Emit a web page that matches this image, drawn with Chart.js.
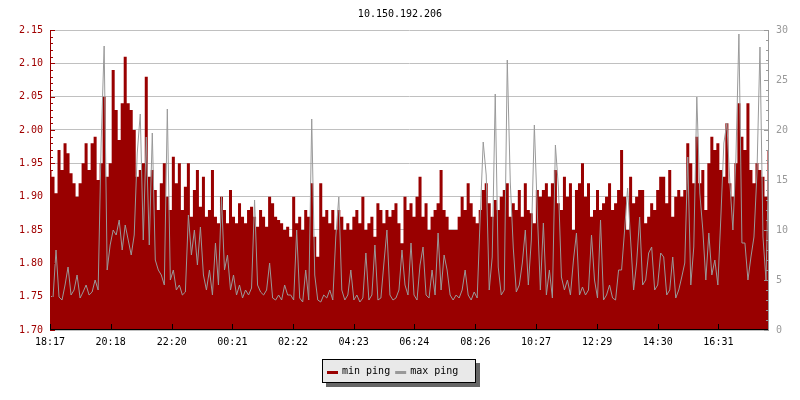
<!DOCTYPE html>
<html>
<head>
<meta charset="utf-8">
<title>10.150.192.206</title>
<script src="https://cdn.jsdelivr.net/npm/chart.js@4.4.1/dist/chart.umd.min.js"></script>
<style>
  html, body { margin: 0; padding: 0; background: #fff; }
  #wrap { width: 800px; height: 400px; }
</style>
</head>
<body>
<div id="wrap"><canvas id="pingChart" width="800" height="400"></canvas></div>
<script>
const chartTitle = '10.150.192.206';

// x axis labels and their offset in minutes from 18:17
const tickLabels = ['18:17', '20:18', '22:20', '00:21', '02:22', '04:23', '06:24', '08:26', '10:27', '12:29', '14:30', '16:31'];
const tickMinutes = [0, 121, 243, 364, 485, 606, 727, 849, 970, 1092, 1213, 1334];
const spanMinutes = 1435;

// min ping, left axis (ms)
const minPing = [
  1.94, 1.93, 1.905, 1.97, 1.94, 1.98, 1.965, 1.935, 1.92, 1.90,
  1.92, 1.95, 1.98, 1.94, 1.98, 1.99, 1.925, 1.95, 2.05, 1.93,
  1.95, 2.09, 2.03, 1.985, 2.04, 2.11, 2.04, 2.03, 2.00, 1.93,
  1.94, 1.95, 2.08, 1.93, 1.94, 1.91, 1.88, 1.92, 1.95, 1.90,
  1.88, 1.96, 1.92, 1.95, 1.88, 1.915, 1.95, 1.87, 1.91, 1.94,
  1.885, 1.93, 1.87, 1.88, 1.94, 1.87, 1.86, 1.90, 1.88, 1.86,
  1.91, 1.87, 1.86, 1.89, 1.87, 1.86, 1.88, 1.885, 1.87, 1.855,
  1.88, 1.87, 1.855, 1.90, 1.89, 1.87, 1.865, 1.86, 1.85, 1.855,
  1.84, 1.90, 1.86, 1.87, 1.85, 1.88, 1.87, 1.92, 1.84, 1.81,
  1.92, 1.87, 1.88, 1.86, 1.88, 1.85, 1.88, 1.87, 1.85, 1.86,
  1.85, 1.87, 1.88, 1.86, 1.90, 1.85, 1.86, 1.87, 1.84, 1.89,
  1.88, 1.86, 1.88, 1.87, 1.88, 1.89, 1.86, 1.83, 1.90, 1.88,
  1.89, 1.87, 1.90, 1.93, 1.87, 1.89, 1.85, 1.87, 1.88, 1.89,
  1.94, 1.88, 1.87, 1.85, 1.85, 1.85, 1.87, 1.90, 1.88, 1.92,
  1.89, 1.87, 1.86, 1.88, 1.91, 1.92, 1.89, 1.87, 1.895, 1.88,
  1.90, 1.91, 1.92, 1.87, 1.89, 1.88, 1.91, 1.87, 1.92, 1.88,
  1.875, 1.86, 1.91, 1.90, 1.91, 1.92, 1.90, 1.92, 1.94, 1.89,
  1.88, 1.93, 1.90, 1.92, 1.85, 1.91, 1.92, 1.95, 1.90, 1.92,
  1.87, 1.88, 1.91, 1.88, 1.89, 1.90, 1.92, 1.88, 1.89, 1.91,
  1.97, 1.90, 1.85, 1.93, 1.89, 1.90, 1.91, 1.91, 1.86, 1.87,
  1.89, 1.88, 1.91, 1.93, 1.93, 1.89, 1.94, 1.87, 1.90, 1.91,
  1.90, 1.91, 1.98, 1.95, 1.92, 1.99, 1.92, 1.94, 1.88, 1.95,
  1.99, 1.97, 1.98, 1.94, 1.93, 2.01, 1.92, 1.90, 1.95, 2.04,
  1.99, 1.97, 2.04, 1.94, 1.92, 1.95, 1.94, 1.93, 1.90, 1.97
];

// max ping, right axis (ms)
const maxPing = [
  3.5, 3.2, 8.0, 3.3, 3.0, 4.5, 6.3, 3.5, 4.0, 5.5,
  3.2, 3.8, 4.5, 3.5, 3.8, 5.0, 4.0, 18.7, 28.4, 6.0,
  8.5, 10.0, 9.5, 11.0, 8.0, 10.5, 9.0, 7.5, 9.5, 17.7,
  21.6, 9.0, 19.3, 8.5, 19.7, 7.0, 6.0, 5.5, 4.5, 22.1,
  5.0, 6.0, 4.0, 4.5, 3.5, 3.8, 11.5, 7.5, 10.0, 6.5,
  10.3, 5.5, 4.0, 6.0, 3.5, 8.7, 4.5, 13.3, 6.0, 7.5,
  4.0, 5.5, 3.5, 4.5, 3.2, 4.0, 3.5, 4.2, 13.0, 4.5,
  3.8, 3.5, 4.0, 6.7, 3.2, 3.0, 3.5, 3.0, 4.5, 3.5,
  3.5, 3.0, 10.0, 3.2, 2.8, 6.0, 3.0, 21.1, 5.5, 3.0,
  2.8, 3.5, 3.2, 4.0, 3.0, 9.3, 13.3, 4.0, 3.0, 3.5,
  6.0, 3.0, 3.5, 2.8, 3.2, 7.7, 3.0, 3.5, 8.5, 3.0,
  3.2, 6.7, 10.0, 3.5, 3.0, 3.2, 4.0, 8.0, 4.5, 3.5,
  8.7, 3.5, 3.0, 6.5, 8.3, 3.5, 3.2, 6.0, 3.5, 9.7,
  4.0, 7.5, 6.0, 3.5, 3.0, 3.5, 3.2, 4.0, 6.0, 3.5,
  3.0, 3.8, 3.2, 11.3, 18.8, 15.5, 4.0, 7.3, 23.6, 6.3,
  3.5, 4.0, 27.0, 14.8, 8.2, 3.8, 4.5, 6.7, 10.0, 4.5,
  9.0, 20.5, 11.7, 4.0, 10.7, 3.5, 6.0, 3.2, 18.5, 14.3,
  5.3, 4.0, 5.0, 3.5, 7.0, 9.7, 3.5, 4.3, 3.5, 4.0,
  9.5, 5.0, 3.2, 11.0, 3.0, 3.5, 4.5, 3.2, 3.0, 6.0,
  6.0, 10.0, 14.2, 9.0, 4.0, 6.7, 11.3, 4.5, 5.0, 7.7,
  8.3, 4.0, 4.5, 7.7, 7.3, 3.5, 4.0, 7.3, 3.2, 4.0,
  5.3, 6.7, 17.3, 4.5, 8.3, 23.3, 13.7, 10.0, 5.0, 9.7,
  5.5, 7.0, 4.5, 11.3, 18.7, 20.7, 14.7, 10.0, 17.2, 29.6,
  8.7, 8.7, 5.0, 7.3, 9.3, 15.7, 28.3, 9.3, 5.0, 18.0
];

const seriesLabels = ['min ping', 'max ping'];
const seriesColors = ['#990000', '#999999'];

const FONT = "'DejaVu Sans Mono', monospace";

// samples are evenly spread over the time span
const sampleStep = spanMinutes / (minPing.length - 1);
const toPoints = (values) => values.map((v, i) => ({ x: i * sampleStep, y: v }));

const axisTicksPlugin = {
  id: 'axisTicks',
  afterDatasetsDraw(chart) {
    const ctx = chart.ctx;
    const area = chart.chartArea;
    const y = chart.scales.y;
    const y1 = chart.scales.y1;
    const x = chart.scales.x;

    ctx.save();
    ctx.lineWidth = 1;

    // left axis, minor every 0.01
    ctx.strokeStyle = '#990000';
    ctx.beginPath();
    ctx.moveTo(area.left + 0.5, area.top);
    ctx.lineTo(area.left + 0.5, area.bottom);
    for (let i = 0; i <= 45; i++) {
      const py = Math.round(y.getPixelForValue(1.70 + i * 0.01)) + 0.5;
      const len = i % 5 === 0 ? 5 : 3;
      ctx.moveTo(area.left, py);
      ctx.lineTo(area.left + len, py);
    }
    ctx.stroke();

    // right axis, minor every 1
    ctx.strokeStyle = '#999999';
    ctx.beginPath();
    ctx.moveTo(area.right - 0.5, area.top);
    ctx.lineTo(area.right - 0.5, area.bottom);
    for (let i = 0; i <= 30; i++) {
      const py = Math.round(y1.getPixelForValue(i)) + 0.5;
      const len = i % 5 === 0 ? 5 : 3;
      ctx.moveTo(area.right, py);
      ctx.lineTo(area.right - len, py);
    }
    ctx.stroke();

    // bottom axis
    ctx.strokeStyle = '#000000';
    ctx.beginPath();
    ctx.moveTo(area.left, area.bottom - 0.5);
    ctx.lineTo(area.right - 1, area.bottom - 0.5);
    tickMinutes.forEach((m) => {
      const px = Math.round(x.getPixelForValue(m)) + 0.5;
      ctx.moveTo(px, area.bottom);
      ctx.lineTo(px, area.bottom - 6);
    });
    ctx.stroke();
    ctx.restore();
  }
};

const boxLegendPlugin = {
  id: 'boxLegend',
  afterDraw(chart) {
    const ctx = chart.ctx;
    const bx = 322, by = 359, bw = 154, bh = 24;

    ctx.save();
    ctx.fillStyle = '#666666';
    ctx.fillRect(bx + 4, by + 4, bw, bh);
    ctx.fillStyle = '#e9e9e9';
    ctx.fillRect(bx, by, bw, bh);
    ctx.strokeStyle = '#000000';
    ctx.lineWidth = 1;
    ctx.strokeRect(bx + 0.5, by + 0.5, bw - 1, bh - 1);

    ctx.font = `10px ${FONT}`;
    ctx.textBaseline = 'middle';
    ctx.textAlign = 'left';
    let cx = bx + 5;
    seriesLabels.forEach((label, i) => {
      ctx.fillStyle = seriesColors[i];
      ctx.fillRect(cx, by + 12, 11, 3);
      ctx.fillStyle = '#000000';
      ctx.fillText(label, cx + 15, by + 12);
      cx += 15 + ctx.measureText(label).width + 5;
    });
    ctx.restore();
  }
};

new Chart(document.getElementById('pingChart'), {
  type: 'line',
  data: {
    datasets: [
      {
        label: seriesLabels[1],
        data: toPoints(maxPing),
        yAxisID: 'y1',
        borderColor: seriesColors[1],
        borderWidth: 1,
        tension: 0,
        pointRadius: 0,
        fill: false,
        order: 0
      },
      {
        label: seriesLabels[0],
        data: toPoints(minPing),
        yAxisID: 'y',
        borderColor: seriesColors[0],
        backgroundColor: seriesColors[0],
        borderWidth: 0,
        stepped: 'middle',
        pointRadius: 0,
        fill: 'start',
        order: 1
      }
    ]
  },
  options: {
    responsive: false,
    animation: false,
    layout: { padding: 0 },
    plugins: {
      legend: { display: false },
      tooltip: { enabled: false },
      title: {
        display: true,
        text: chartTitle,
        color: '#000000',
        font: { family: FONT, size: 10, weight: 'normal', lineHeight: 1.2 },
        padding: { top: 8, bottom: 10 }
      }
    },
    scales: {
      x: {
        type: 'linear',
        min: 0,
        max: spanMinutes,
        afterBuildTicks(scale) {
          scale.ticks = tickMinutes.map((m) => ({ value: m }));
        },
        afterFit(scale) { scale.height = 70; },
        grid: { display: false, drawTicks: false },
        border: { display: false },
        ticks: {
          autoSkip: false,
          maxRotation: 0,
          padding: 6,
          color: '#000000',
          font: { family: FONT, size: 10 },
          callback: (value, index) => tickLabels[index]
        }
      },
      y: {
        position: 'left',
        min: 1.70,
        max: 2.15,
        afterFit(scale) { scale.width = 50; },
        grid: { color: '#c0c0c0', drawTicks: false },
        border: { display: false },
        ticks: {
          stepSize: 0.05,
          padding: 7,
          color: '#a00000',
          font: { family: FONT, size: 10 },
          callback: (value) => value.toFixed(2)
        }
      },
      y1: {
        position: 'right',
        min: 0,
        max: 30,
        afterFit(scale) { scale.width = 31; },
        grid: { display: false, drawTicks: false },
        border: { display: false },
        ticks: {
          stepSize: 5,
          padding: 7,
          color: '#999999',
          font: { family: FONT, size: 10 }
        }
      }
    }
  },
  plugins: [axisTicksPlugin, boxLegendPlugin]
});
</script>
</body>
</html>
